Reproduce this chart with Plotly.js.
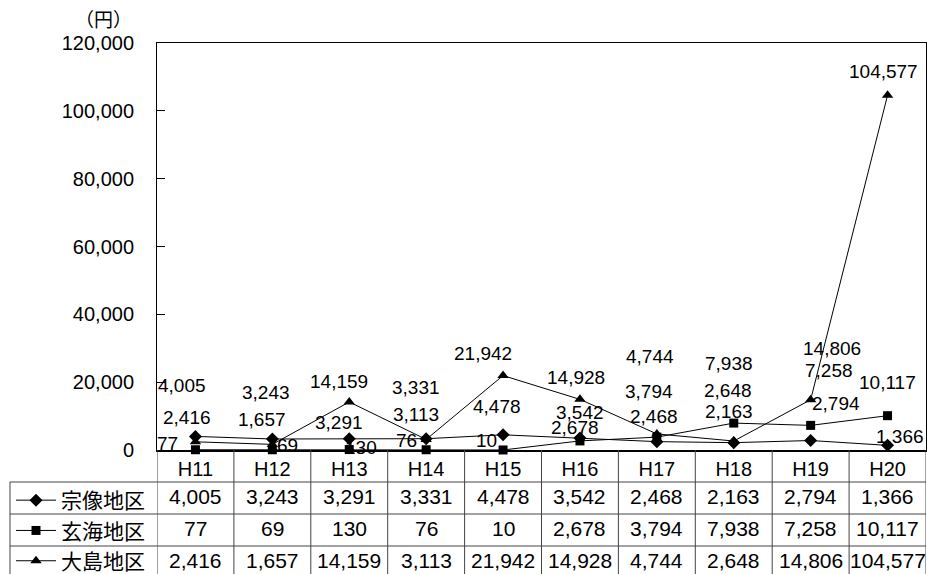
<!DOCTYPE html>
<html>
<head>
<meta charset="utf-8">
<script src="https://cdn.plot.ly/plotly-3.0.1.min.js"></script>
<style>html,body{margin:0;padding:0;background:#fff;}#chart{width:927px;height:574px;}</style>
</head>
<body>
<div id="chart"></div>
<script>
// ---- data ----
const categories = ['H11','H12','H13','H14','H15','H16','H17','H18','H19','H20'];
const seriesNames = ['宗像地区','玄海地区','大島地区'];
const munakata = [4005,3243,3291,3331,4478,3542,2468,2163,2794,1366];
const genkai = [77,69,130,76,10,2678,3794,7938,7258,10117];
const oshima = [2416,1657,14159,3113,21942,14928,4744,2648,14806,104577];
const yTicks = [0,20000,40000,60000,80000,100000,120000];
const unitLabel = '（円）';

// ---- label placement (pixel offsets from each point) ----
const labelDx = [
  [-13,-6,-10,-10,-6,0,-3,-5,25,12],
  [-28,15,12,-20,-17,-5,-8,-5,18,0],
  [-8,-10,-10,-10,-20,-4,-7,-6,21,-4]
];
const labelDy = [
  [-51,-47,-16,-51,-28,-25,-25,-31,-37,-9],
  [-6,-4,-2,-9,-9,-13,-46,-60,-55,-33],
  [-24,-25,-20,-25,-22,-22,-77,-51,-51,-24]
];

const fmt = v => v.toLocaleString('en-US');
const FONT = 'Liberation Sans, Arial, Noto Sans CJK JP, sans-serif';
const allSeries = [munakata, genkai, oshima];
const symbols = ['diamond','square','triangle-up'];
const msizes = [10,9,10];

// ---- geometry ----
const W = 927, H = 574;
const M = {l:157, r:1, t:43, b:124};
const plotH = H - M.t - M.b;
const plotW = W - M.l - M.r;
const px2py = p => -p / plotH;  // px below x axis -> paper y
const px2px = p => p / plotW;   // px right of y axis -> paper x
const headerPx = 32, rowPx = 32, leftColPx = 147;

const traces = allSeries.map((vals, i) => ({
  type: 'scatter', mode: 'lines+markers',
  x: categories, y: vals, name: seriesNames[i],
  legendgroup: 'g' + i,
  line: {color: '#000', width: 1},
  marker: {symbol: symbols[i], size: msizes[i], color: '#000'},
  cliponaxis: false,
  hoverinfo: 'x+y+name'
}));

const annotations = [];
allSeries.forEach((vals, s) => {
  vals.forEach((v, i) => {
    annotations.push({
      x: categories[i], y: v, xref: 'x', yref: 'y',
      text: fmt(v), showarrow: false,
      xanchor: 'center', yanchor: 'middle',
      xshift: labelDx[s][i], yshift: -labelDy[s][i],
      font: {family: FONT, size: 19, color: '#000'}
    });
  });
});
allSeries.forEach((vals, s) => {
  const yc = px2py(headerPx + rowPx * s + rowPx / 2 - 2);
  vals.forEach((v, i) => {
    annotations.push({
      x: categories[i], y: yc, xref: 'x', yref: 'paper',
      text: fmt(v), showarrow: false,
      xanchor: 'center', yanchor: 'middle',
      font: {family: FONT, size: 21, color: '#000'}
    });
  });
});
annotations.push({
  x: px2px(-54), y: 1 + 24 / plotH, xref: 'paper', yref: 'paper',
  text: unitLabel, showarrow: false, xanchor: 'center', yanchor: 'middle',
  font: {family: 'Noto Sans CJK JP, sans-serif', size: 19, color: '#000'}
});

const shapes = [];
const gridColor = '#444';
const tableBottom = px2py(headerPx + rowPx * 3 + 4);
for (let i = 0; i <= categories.length; i++) {
  shapes.push({type: 'line', xref: 'x', yref: 'paper', x0: i - 0.5, x1: i - 0.5,
    y0: 0, y1: tableBottom, line: {color: gridColor, width: 1}});
}
for (let r = 0; r < 3; r++) {
  const yy = px2py(headerPx + rowPx * r);
  shapes.push({type: 'line', xref: 'paper', yref: 'paper', x0: px2px(-leftColPx), x1: 1,
    y0: yy, y1: yy, line: {color: gridColor, width: 1}});
}
shapes.push({type: 'line', xref: 'paper', yref: 'paper', x0: px2px(-leftColPx), x1: px2px(-leftColPx),
  y0: px2py(headerPx), y1: tableBottom, line: {color: gridColor, width: 1}});

const layout = {
  width: W, height: H,
  margin: M,
  paper_bgcolor: '#fff', plot_bgcolor: '#fff',
  font: {family: FONT, color: '#000'},
  showlegend: true,
  legend: {
    xref: 'container', yref: 'container',
    x: 11 / W, y: 1 - (H - M.b + headerPx - 2) / H, xanchor: 'left', yanchor: 'top',
    font: {family: 'Noto Sans CJK JP, sans-serif', size: 21, color: '#000'},
    bgcolor: 'rgba(0,0,0,0)', itemwidth: 40, tracegroupgap: 0,
    traceorder: 'normal', maxheight: 400
  },
  xaxis: {
    type: 'category', categoryarray: categories, range: [-0.5, categories.length - 0.5],
    showline: true, linecolor: '#000', linewidth: 1.5, mirror: true,
    ticks: '', showgrid: false, zeroline: false, automargin: false,
    tickfont: {family: FONT, size: 20, color: '#000'},
    fixedrange: true
  },
  yaxis: {
    range: [0, 120000], tickvals: yTicks, ticktext: yTicks.map(fmt),
    showline: true, linecolor: '#000', linewidth: 1, mirror: true,
    ticks: 'inside', ticklen: 8, tickcolor: '#000',
    showgrid: false, zeroline: false, automargin: false,
    ticklabelstandoff: 18,
    tickfont: {family: FONT, size: 20, color: '#000'},
    fixedrange: true
  },
  annotations: annotations,
  shapes: shapes
};

Plotly.newPlot('chart', traces, layout, {displayModeBar: false, staticPlot: true});
</script>
</body>
</html>
